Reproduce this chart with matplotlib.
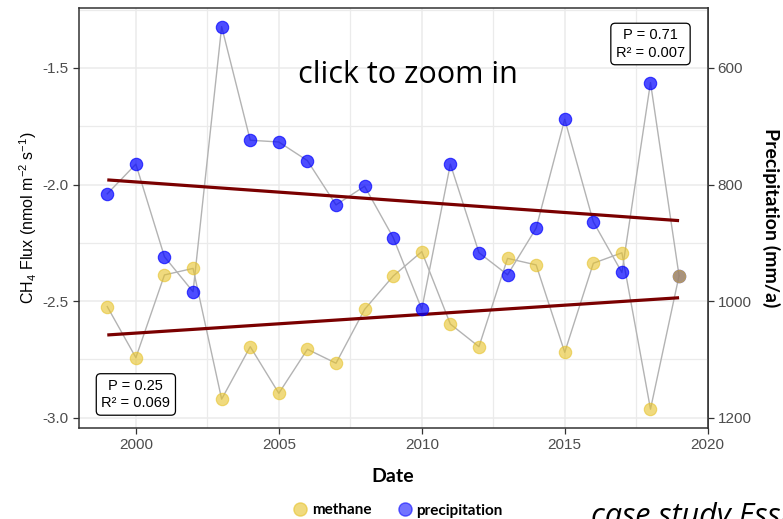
import numpy as np
import matplotlib
matplotlib.use("Agg")
import matplotlib.pyplot as plt
from matplotlib.lines import Line2D

# ---- data ----
years = list(range(1999, 2020))
methane = [-2.524, -2.743, -2.388, -2.360, -2.921, -2.696, -2.896, -2.707, -2.767, -2.536,
           -2.393, -2.288, -2.599, -2.696, -2.317, -2.345, -2.720, -2.338, -2.293, -2.964, -2.391]
precip = [816, 765, 924, 984, 529, 724, 727, 759, 835, 803,
          891, 1014, 765, 917, 955, 875, 688, 864, 951, 625, 957]
x_ticks = [2000, 2005, 2010, 2015, 2020]
y_ticks = [-3.0, -2.5, -2.0, -1.5]
p_ticks = [600, 800, 1000, 1200]
stats_methane = ("0.25", "0.069")
stats_precip = ("0.71", "0.007")

SCALE = -400.0  # precipitation = SCALE * CH4 axis value

plt.rcParams['mathtext.fontset'] = 'custom'
plt.rcParams['mathtext.rm'] = 'Liberation Sans'
plt.rcParams['mathtext.it'] = 'Liberation Sans:italic'

fig = plt.figure(figsize=(7.83, 5.19), dpi=100)
ax = fig.add_axes([0.1005, 0.1753, 0.8033, 0.8093])

x = np.array(years, dtype=float)
m = np.array(methane)
p_t = np.array(precip) / SCALE

yellow = (0.90, 0.76, 0.16)
blue = (0.0, 0.0, 1.0)
grey = '#b3b3b3'

ax.plot(x, p_t, color=grey, lw=1.0, zorder=2)
ax.plot(x, m, color=grey, lw=1.0, zorder=2)

# regression lines
for yv in (m, p_t):
    c = np.polyfit(x, yv, 1)
    ax.plot(x[[0, -1]], np.polyval(c, x[[0, -1]]), color='#7a0000', lw=2.3, zorder=3,
            solid_capstyle='butt')

ax.scatter(x, p_t, s=80, color=blue, alpha=0.7, edgecolors=blue, linewidths=0.8, zorder=4)
ax.scatter(x, m, s=80, color=yellow, alpha=0.6, edgecolors=yellow, linewidths=0.8, zorder=5)

ax.set_xlim(1998, 2020)
ax.set_ylim(-3.045, -1.2425)
ax.set_xticks(x_ticks)
ax.set_xticks([2002.5, 2007.5, 2012.5, 2017.5], minor=True)
ax.set_yticks(y_ticks)
ax.set_yticks([-2.75, -2.25, -1.75, -1.25], minor=True)
ax.set_yticklabels([f"{v:.1f}" for v in y_ticks])
ax.grid(True, which='major', color='#ebebeb', lw=1.1, zorder=0)
ax.grid(True, which='minor', color='#ebebeb', lw=0.9, zorder=0)
ax.set_axisbelow(True)
ax.tick_params(which='minor', length=0)
ax.tick_params(which='major', length=4, width=0.9, color='#333333',
               labelsize=11, labelcolor='#4d4d4d', pad=3)
for lab in ax.get_xticklabels() + ax.get_yticklabels():
    lab.set_fontfamily('Liberation Sans')
for s in ax.spines.values():
    s.set_color('#333333')
    s.set_linewidth(1.1)

ax.set_ylabel(r'CH$_4$ Flux (nmol m$^{-2}$ s$^{-1}$)', fontsize=11.5, family='Liberation Sans',
              labelpad=3)
ax.set_xlabel('Date', fontsize=14, family='Lato', fontweight='bold', labelpad=12)

sec = ax.secondary_yaxis('right', functions=(lambda v: v * SCALE, lambda pp: pp / SCALE))
sec.set_yticks(p_ticks)
sec.tick_params(length=4, width=0.9, color='#333333', labelsize=11, labelcolor='#4d4d4d', pad=3)
for lab in sec.get_yticklabels():
    lab.set_fontfamily('Liberation Sans')
sec.spines['right'].set_color('#333333')
sec.spines['right'].set_linewidth(1.1)
sec.set_ylabel('Precipitation (mm/a)', rotation=270, fontsize=14, family='Lato',
               fontweight='bold', labelpad=21)

box = dict(boxstyle='round,pad=0.35,rounding_size=0.3', fc='white', ec='black', lw=0.9)
ax.text(2000, -2.901, f"P = {stats_methane[0]}\nR² = {stats_methane[1]}", ha='center', va='center',
        fontsize=10.5, family='Liberation Sans', bbox=box, zorder=6, linespacing=1.3)
ax.text(2018, -1.397, f"P = {stats_precip[0]}\nR² = {stats_precip[1]}", ha='center', va='center',
        fontsize=10.5, family='Liberation Sans', bbox=box, zorder=6, linespacing=1.3)

fig.text(298 / 783, 1 - 75 / 519, 'click to zoom in', fontsize=22, family='Open Sans',
         ha='left', va='center', color='black')

handles = [Line2D([], [], ls='none', marker='o', ms=9.5, mfc=yellow, mec=yellow, alpha=0.6),
           Line2D([], [], ls='none', marker='o', ms=9.5, mfc=blue, mec=blue, alpha=0.55)]
leg = fig.legend(handles, ['methane', 'precipitation'], loc='center', ncol=2,
                 bbox_to_anchor=(397 / 783, 1 - 510.5 / 519), frameon=False,
                 prop={'family': 'Lato', 'weight': 'bold', 'size': 11},
                 handletextpad=0.15, columnspacing=1.6, handlelength=1.2)

fig.text(591 / 783, -0.0125, 'case study Esslingen', fontsize=22, family='Open Sans',
         style='italic', ha='left', va='baseline', color='black')

fig.savefig('out.png', dpi=100)
